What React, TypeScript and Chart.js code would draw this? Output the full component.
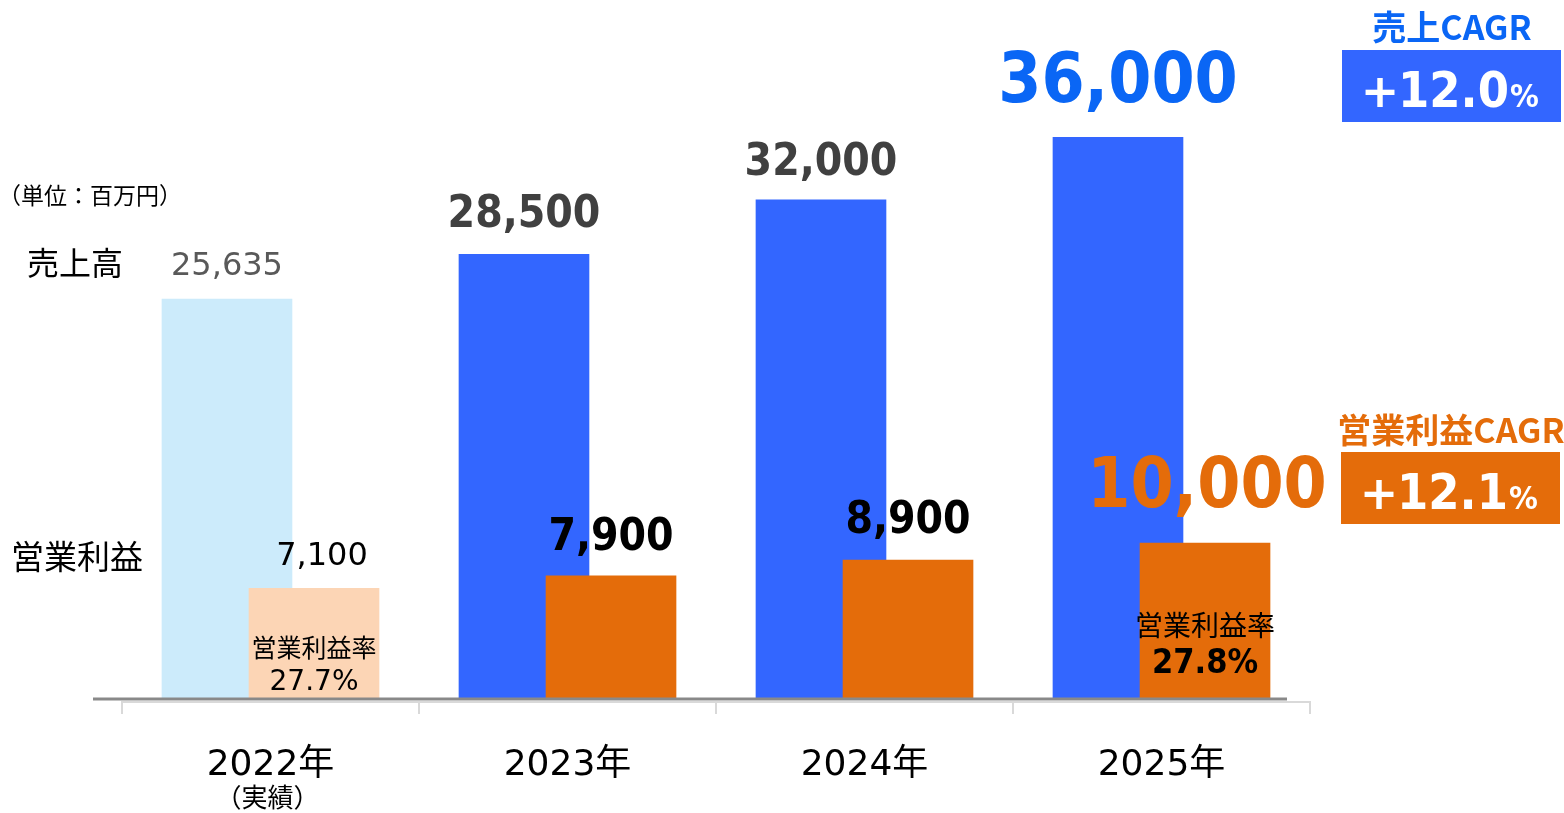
import React, { useEffect, useRef } from "react";
import { Chart, registerables } from "chart.js";

Chart.register(...registerables);

// ---- data ----
const categories = ["2022年", "2023年", "2024年", "2025年"];
const categoryNotes = ["（実績）", "", "", ""];
const sales = [25635, 28500, 32000, 36000];
const profit = [7100, 7900, 8900, 10000];
const showMargin = [true, false, false, true];

// ---- styles ----
const BLUE = "#3366FF";
const LIGHT_BLUE = "#CCEBFB";
const ORANGE = "#E46C0A";
const PEACH = "#FCD5B5";
const TITLE_BLUE = "#0A66F5";
const JP = "'Noto Sans CJK JP', sans-serif";
const NUM = "'DejaVu Sans', 'Noto Sans CJK JP', sans-serif";
const NUMB = "'DejaVu Sans Condensed', 'DejaVu Sans', 'Noto Sans CJK JP', sans-serif";
const OFF = 0.1465;

const fmt = (v: number) => v.toLocaleString("en-US");
const cagr = (a: number[]) => ((Math.pow(a[a.length - 1] / a[0], 1 / (a.length - 1)) - 1) * 100).toFixed(1);

// label styles by index
const salesLabelStyle = [
  { font: `32px ${NUM}`, color: "#595959", gap: 24, dx: 0 },
  { font: `bold 44px ${NUMB}`, color: "#404040", gap: 27, dx: 0 },
  { font: `bold 44px ${NUMB}`, color: "#404040", gap: 25, dx: 0 },
  { font: `bold 69px ${NUMB}`, color: TITLE_BLUE, gap: 35, dx: 0 },
];
const profitLabelStyle = [
  { font: `32px ${NUM}`, color: "#000000", gap: 23, dx: 8 },
  { font: `bold 44px ${NUMB}`, color: "#000000", gap: 26, dx: 0 },
  { font: `bold 44px ${NUMB}`, color: "#000000", gap: 27, dx: 0 },
  { font: `bold 69px ${NUMB}`, color: ORANGE, gap: 36, dx: 2 },
];

const overlayPlugin = {
  id: "overlay",
  afterDatasetsDraw(chart: any) {
    const ctx: CanvasRenderingContext2D = chart.ctx;
    const xs = chart.scales.x;
    const ys = chart.scales.y;
    const base = ys.getPixelForValue(0);
    const left = xs.getPixelForValue(-0.5);
    const right = xs.getPixelForValue(categories.length - 0.5);
    ctx.save();

    // axis
    ctx.strokeStyle = "#D9D9D9";
    ctx.lineWidth = 2;
    ctx.beginPath();
    ctx.moveTo(left, base + 3);
    ctx.lineTo(right, base + 3);
    for (let i = 0; i <= categories.length; i++) {
      const x = Math.round(xs.getPixelForValue(i - 0.5));
      ctx.moveTo(x, base + 2);
      ctx.lineTo(x, base + 15);
    }
    ctx.stroke();
    ctx.strokeStyle = "#898989";
    ctx.lineWidth = 3;
    ctx.beginPath();
    ctx.moveTo(left - 29, base);
    ctx.lineTo(right - 23, base);
    ctx.stroke();

    const sMeta = chart.getDatasetMeta(0);
    const pMeta = chart.getDatasetMeta(1);
    ctx.textAlign = "center";
    ctx.textBaseline = "alphabetic";

    // value labels
    sales.forEach((v, i) => {
      const bar = sMeta.data[i];
      const st = salesLabelStyle[i];
      ctx.font = st.font;
      ctx.fillStyle = st.color;
      ctx.fillText(fmt(v), bar.x + st.dx, bar.y - st.gap);
    });
    profit.forEach((v, i) => {
      const bar = pMeta.data[i];
      const st = profitLabelStyle[i];
      ctx.font = st.font;
      ctx.fillStyle = st.color;
      ctx.fillText(fmt(v), bar.x + st.dx, bar.y - st.gap);
    });

    // margin labels inside orange bars
    profit.forEach((v, i) => {
      if (!showMargin[i]) return;
      const bar = pMeta.data[i];
      const rate = ((v / sales[i]) * 100).toFixed(1) + "%";
      const last = i === profit.length - 1;
      ctx.fillStyle = "#000000";
      ctx.textBaseline = "middle";
      ctx.font = `${last ? 28 : 25}px ${JP}`;
      ctx.fillText("営業利益率", bar.x, base - (last ? 74 : 52));
      ctx.textBaseline = "alphabetic";
      ctx.font = last ? `bold 34px ${NUMB}` : `28px ${NUM}`;
      ctx.fillText(rate, bar.x, base - (last ? 26 : 9));
    });

    // category labels
    categories.forEach((c, i) => {
      const x = xs.getPixelForValue(i);
      ctx.fillStyle = "#000000";
      ctx.textBaseline = "alphabetic";
      ctx.font = `36px ${NUM}`;
      ctx.fillText(c, x, 775);
      if (categoryNotes[i]) {
        ctx.textBaseline = "middle";
        ctx.font = `26px ${JP}`;
        ctx.fillText(categoryNotes[i], x - 3, 797);
      }
    });

    // left side labels
    ctx.textAlign = "left";
    ctx.textBaseline = "middle";
    ctx.fillStyle = "#000000";
    ctx.font = `23px ${JP}`;
    ctx.fillText("（単位：百万円）", -2, 195);
    ctx.font = `32px ${JP}`;
    ctx.fillText("売上高", 27, 263);
    ctx.font = `33px ${JP}`;
    ctx.fillText("営業利益", 11, 556);

    // CAGR boxes
    const drawCagr = (title: string, value: string, color: string, boxColor: string, bx: number, by: number, ty: number) => {
      ctx.textAlign = "center";
      ctx.textBaseline = "middle";
      ctx.fillStyle = color;
      ctx.font = `bold 34px ${JP}`;
      ctx.fillText(title, bx + 110, ty);
      ctx.fillStyle = boxColor;
      ctx.fillRect(bx, by, 219, 72);
      ctx.fillStyle = "#FFFFFF";
      ctx.textBaseline = "alphabetic";
      ctx.font = `bold 46px ${NUM}`;
      ctx.fillText("+", bx + 38, by + 57);
      ctx.textAlign = "left";
      ctx.font = `bold 50px ${NUMB}`;
      ctx.fillText(value, bx + 56, by + 57);
      ctx.font = `bold 32px ${NUMB}`;
      ctx.fillText("%", bx + 168, by + 57);
    };
    drawCagr("売上CAGR", cagr(sales), TITLE_BLUE, BLUE, 1342, 50, 27);
    drawCagr("営業利益CAGR", cagr(profit), ORANGE, ORANGE, 1341, 452, 430);

    ctx.restore();
  },
};

export default function App() {
  const ref = useRef<HTMLCanvasElement | null>(null);
  useEffect(() => {
    if (!ref.current) return;
    const chart = new Chart(ref.current, {
      type: "bar",
      data: {
        datasets: [
          {
            label: "売上高",
            data: sales.map((v, i) => ({ x: i - OFF, y: v })),
            backgroundColor: sales.map((_, i) => (i === 0 ? LIGHT_BLUE : BLUE)),
            barThickness: 130,
            grouped: false,
            borderWidth: 0,
            order: 2,
          } as any,
          {
            label: "営業利益",
            data: profit.map((v, i) => ({ x: i + OFF, y: v })),
            backgroundColor: profit.map((_, i) => (i === 0 ? PEACH : ORANGE)),
            barThickness: 130,
            grouped: false,
            borderWidth: 0,
            order: 1,
          } as any,
        ],
      },
      options: {
        animation: false,
        responsive: true,
        maintainAspectRatio: false,
        events: [],
        layout: { padding: { left: 122, right: 254, top: 75, bottom: 114 } },
        plugins: { legend: { display: false }, tooltip: { enabled: false } },
        scales: {
          x: { type: "linear", min: -0.5, max: 3.5, display: false, offset: false, grid: { offset: false } },
          y: { min: 0, max: 40000, display: false },
        },
      },
      plugins: [overlayPlugin],
    });
    return () => chart.destroy();
  }, []);
  return (
    <div style={{ position: "fixed", left: 0, top: 0, width: 1564, height: 813, background: "#fff" }}>
      <canvas ref={ref} />
    </div>
  );
}
